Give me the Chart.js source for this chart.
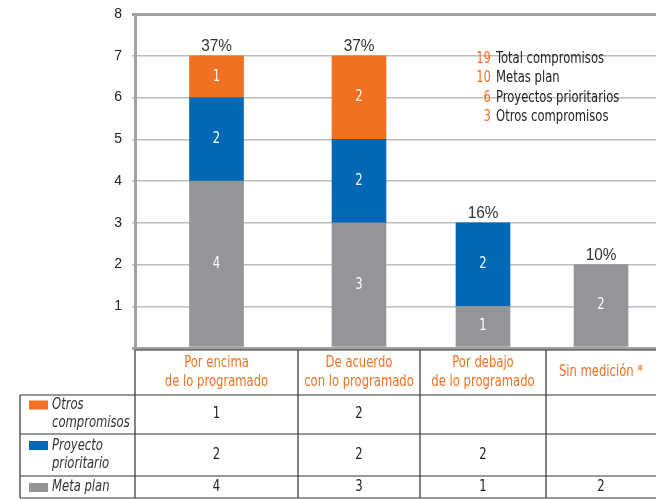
<!DOCTYPE html>
<html>
<head>
<meta charset="utf-8">
<script src="https://cdn.jsdelivr.net/npm/chart.js@4/dist/chart.umd.min.js"></script>
<style>
  body { margin: 0; background: #fff; }
  #wrap { width: 656px; height: 499px; position: relative; }
</style>
</head>
<body>
<div id="wrap"><canvas id="chart"></canvas></div>
<script>
// categories (table header, two lines each)
var categories = [
    ["Por encima", "de lo programado"],
    ["De acuerdo", "con lo programado"],
    ["Por debajo", "de lo programado"],
    ["Sin medición *"]
];
var otros = [1, 2, null, null];
var proyecto = [2, 2, 2, null];
var meta = [4, 3, 1, 2];
var percentLabels = ["37%", "37%", "16%", "10%"];
var summaryCounts = [19, 10, 6, 3];
var summaryLabels = ["Total compromisos", "Metas plan", "Proyectos prioritarios", "Otros compromisos"];
var rowNames = [["Otros", "compromisos"], ["Proyecto", "prioritario"], ["Meta plan"]];
var yTicks = [0, 1, 2, 3, 4, 5, 6, 7, 8];

// layout
var colWidths = [163, 122, 126, 110];
var ORANGE = "#f07122";
var BLUE = "#0068b4";
var GREY = "#939598";
var NARROW = "'Liberation Sans Narrow', 'DejaVu Sans Condensed', sans-serif";
var SANS = "'Liberation Sans', sans-serif";
var SQUEEZE = 0.86;

var centers = [];
var edges = [0];
var acc = 0;
colWidths.forEach(function(w){
    centers.push(acc + w / 2);
    acc += w;
    edges.push(acc);
});

function pts(arr){
    return arr.map(function(v, i){ return {x: centers[i], y: v}; });
}

// condensed text: squeeze horizontally around the anchor
function txt(ctx, s, x, y, sq){
    ctx.save();
    ctx.translate(x, y);
    ctx.scale(sq || SQUEEZE, 1);
    ctx.fillText(s, 0, 0);
    ctx.restore();
}

var tablePlugin = {
    id: 'tablePlugin',
    afterDatasetsDraw: function(chart){
        var ctx = chart.ctx;
        var x = chart.scales.x;
        var metas = [0, 1, 2].map(function(i){ return chart.getDatasetMeta(i); });
        var series = [meta, proyecto, otros];

        // values inside segments
        ctx.save();
        ctx.fillStyle = "#fff";
        ctx.font = "15px " + NARROW;
        ctx.textAlign = "center";
        ctx.textBaseline = "middle";
        metas.forEach(function(m, d){
            m.data.forEach(function(bar, j){
                var v = series[d][j];
                if (v == null) return;
                txt(ctx, String(v), bar.x, (bar.y + bar.base) / 2);
            });
        });

        // percentages above the stacks
        ctx.fillStyle = "#333";
        ctx.font = "16px " + SANS;
        ctx.textBaseline = "alphabetic";
        percentLabels.forEach(function(p, j){
            var top = Infinity, cx = 0;
            metas.forEach(function(m, d){
                if (series[d][j] == null) return;
                var b = m.data[j];
                if (b.y < top) { top = b.y; cx = b.x; }
            });
            txt(ctx, p, cx, top - 5, 0.96);
        });

        // summary block
        ctx.font = "15px " + NARROW;
        ctx.textBaseline = "middle";
        summaryCounts.forEach(function(n, i){
            var yy = 59 + i * 19.5;
            ctx.textAlign = "right";
            ctx.fillStyle = ORANGE;
            txt(ctx, String(n), 491, yy);
            ctx.textAlign = "left";
            ctx.fillStyle = "#222";
            txt(ctx, summaryLabels[i], 496, yy);
        });

        // table
        var colX = edges.map(function(e){ return x.getPixelForValue(e); });
        var rows = [350, 395, 434, 476, 498];
        var left = 20, right = 656;
        ctx.strokeStyle = "#333";
        ctx.lineWidth = 1.2;
        ctx.beginPath();
        ctx.moveTo(colX[0], rows[0]); ctx.lineTo(right, rows[0]);
        for (var r = 1; r < rows.length; r++) {
            ctx.moveTo(left, rows[r]); ctx.lineTo(right, rows[r]);
        }
        ctx.moveTo(left, rows[1]); ctx.lineTo(left, rows[4]);
        for (var c = 0; c < colX.length - 1; c++) {
            ctx.moveTo(colX[c], rows[0]); ctx.lineTo(colX[c], rows[4]);
        }
        ctx.stroke();

        // header
        ctx.textAlign = "center";
        ctx.fillStyle = ORANGE;
        ctx.font = "15px " + NARROW;
        categories.forEach(function(lines, j){
            var cx = (colX[j] + colX[j + 1]) / 2;
            var mid = (rows[0] + rows[1]) / 2;
            lines.forEach(function(t, k){
                txt(ctx, t, cx, mid + (k - (lines.length - 1) / 2) * 19);
            });
        });

        // rows
        var rowData = [otros, proyecto, meta];
        var rowColors = [ORANGE, BLUE, GREY];
        rowData.forEach(function(vals, r){
            var top = rows[r + 1], bot = rows[r + 2];
            var mid = (top + bot) / 2;
            var names = rowNames[r];
            ctx.fillStyle = rowColors[r];
            var sy = names.length > 1 ? mid - 14 : mid - 4;
            ctx.fillRect(29, sy, 19, 9);
            ctx.fillStyle = "#333";
            ctx.font = "italic 15px " + NARROW;
            ctx.textAlign = "left";
            names.forEach(function(t, k){
                txt(ctx, t, 52, mid + (k - (names.length - 1) / 2) * 18);
            });
            ctx.font = "15px " + NARROW;
            ctx.textAlign = "center";
            ctx.fillStyle = "#222";
            vals.forEach(function(v, j){
                if (v == null) return;
                txt(ctx, String(v), (colX[j] + colX[j + 1]) / 2, mid);
            });
        });
        ctx.restore();
    }
};

var chart = new Chart(document.getElementById("chart"), {
    type: 'bar',
    data: {
        datasets: [
            { label: "Meta plan", data: pts(meta), backgroundColor: GREY },
            { label: "Proyecto prioritario", data: pts(proyecto), backgroundColor: BLUE },
            { label: "Otros compromisos", data: pts(otros), backgroundColor: ORANGE }
        ]
    },
    options: {
        responsive: true,
        maintainAspectRatio: false,
        animation: false,
        barThickness: 54,
        layout: { padding: { top: 14, right: 0, bottom: 151, left: 0 } },
        plugins: { legend: { display: false }, tooltip: { enabled: false } },
        scales: {
            x: {
                type: 'linear',
                stacked: true,
                offset: false,
                min: 0,
                max: acc,
                display: false
            },
            y: {
                stacked: true,
                min: yTicks[0],
                max: yTicks[yTicks.length - 1],
                afterFit: function(s){ s.width = 135; s.paddingTop = 0; s.paddingBottom = 0; },
                afterBuildTicks: function(s){ s.ticks = yTicks.map(function(v){ return {value: v}; }); },
                ticks: {
                    padding: 10,
                    color: "#222",
                    font: { family: SANS, size: 14 },
                    callback: function(v){ return v === 0 ? '' : v; }
                },
                grid: {
                    tickLength: 3,
                    color: function(c){ return (c.tick && (c.tick.value === 0 || c.tick.value === 8)) ? "#a2a2a2" : "#bdbdbd"; },
                    lineWidth: function(c){ return (c.tick && (c.tick.value === 0 || c.tick.value === 8)) ? 3 : 1.5; }
                },
                border: { color: "#a2a2a2", width: 3 }
            }
        }
    },
    plugins: [tablePlugin]
});
</script>
</body>
</html>
